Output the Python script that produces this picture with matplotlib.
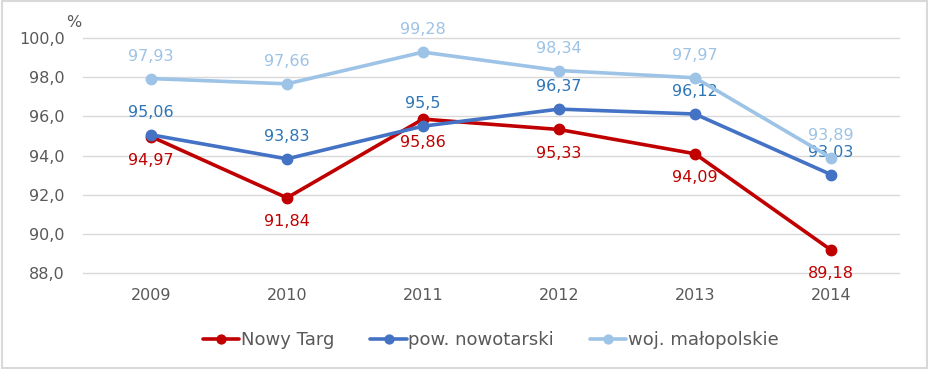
import matplotlib.pyplot as plt
from matplotlib.patches import Rectangle

years = ["2009", "2010", "2011", "2012", "2013", "2014"]
nowy_targ = [94.97, 91.84, 95.86, 95.33, 94.09, 89.18]
pow_nowotarski = [95.06, 93.83, 95.5, 96.37, 96.12, 93.03]
woj_malopolskie = [97.93, 97.66, 99.28, 98.34, 97.97, 93.89]
y_ticks = [88, 90, 92, 94, 96, 98, 100]

series = [
    ("Nowy Targ", nowy_targ, "#C00000", "#C00000", -1),
    ("pow. nowotarski", pow_nowotarski, "#4472C4", "#2E75B6", 1),
    ("woj. małopolskie", woj_malopolskie, "#9DC3E6", "#9DC3E6", 1),
]

plt.rcParams['font.family'] = ['DejaVu Sans']

fig = plt.figure(figsize=(9.29, 3.69), dpi=100)
ax = fig.add_axes([0.0893, 0.26, 0.8784, 0.637])

x = list(range(len(years)))
for name, vals, col, tcol, side in series:
    ax.plot(x, vals, color=col, lw=2.6, marker="o", ms=7.5, label=name,
            solid_capstyle="round", zorder=3)
    for xi, v in zip(x, vals):
        lab = f"{v:g}".replace(".", ",")
        off = 16 if side > 0 else -17
        ax.annotate(lab, (xi, v), xytext=(0, off), textcoords="offset points",
                    ha="center", va="center", color=tcol, fontsize=11.5)

ax.set_xlim(-0.5, len(years) - 0.5)
ax.set_ylim(88, 100)
ax.set_yticks(y_ticks)
ax.set_yticklabels([f"{t:.1f}".replace(".", ",") for t in y_ticks])
ax.set_xticks(x)
ax.set_xticklabels(years)
ax.tick_params(axis="both", length=0, labelsize=11.5, colors="#595959")
ax.tick_params(axis="x", pad=11)
ax.tick_params(axis="y", pad=13)
ax.grid(axis="y", color="#D9D9D9", lw=1)
for gl in ax.get_ygridlines():
    gl.set_clip_on(False)
ax.set_axisbelow(True)
for s in ax.spines.values():
    s.set_visible(False)

fig.text(0.071, 0.94, "%", fontsize=11.5, color="#595959", ha="left", va="center")

leg = ax.legend(loc="center", bbox_to_anchor=(0.5, -0.285), ncol=3, frameon=False,
                fontsize=13, handlelength=2.0, handletextpad=0.1, columnspacing=2.0,
                labelcolor="#595959", markerscale=0.85)

fig.patches.append(Rectangle((0.002, 0.004), 0.996, 0.992, transform=fig.transFigure,
                             fill=False, edgecolor="#D9D9D9", lw=1.5))

fig.savefig("out.png", dpi=100)
